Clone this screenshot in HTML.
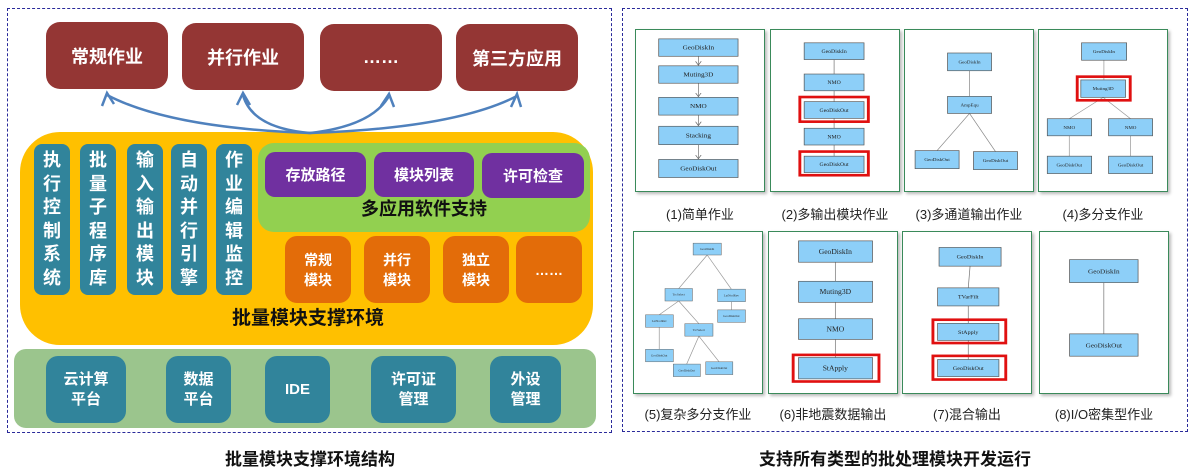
<!DOCTYPE html>
<html><head><meta charset="utf-8"><style>
body{margin:0;width:1196px;height:469px;background:#fff;position:relative;overflow:hidden;font-family:"Liberation Sans","Noto Sans CJK SC",sans-serif}
.a{position:absolute;box-sizing:border-box;display:flex;align-items:center;justify-content:center;text-align:center;color:#fff;font-weight:bold}
.top{background:#943634;border-radius:14px;font-size:18px;width:122px;height:67px}
.bar{background:#31849B;border-radius:8px;width:36px;top:144px;height:151px;font-size:18px;line-height:23.5px;padding:0 8px}
.pu{background:#7030A0;border-radius:10px;font-size:15px;height:45px;top:152px}
.or{background:#E36C09;border-radius:12px;font-size:14px;line-height:20px;width:66px;height:67px;top:236px}
.bt{background:#31849B;border-radius:12px;font-size:15px;line-height:20px;top:356px;height:67px}
.lbl{position:absolute;font-size:13px;color:#222;width:130px;text-align:center}
.pn{position:absolute;width:130px;height:163px;border:1px solid #3a8a5a;box-sizing:border-box;background:#fff;box-shadow:2px 2px 3px #bbb}
svg text{font-family:"Liberation Serif",serif}
</style></head><body>
<div style="position:absolute;left:7px;top:8px;width:605px;height:425px;border:1px dashed #2a2a9a;box-sizing:border-box"></div>
<div style="position:absolute;left:622px;top:8px;width:566px;height:424px;border:1px dashed #2a2a9a;box-sizing:border-box"></div>

<div class="a top" style="left:46px;top:22px">常规作业</div>
<div class="a top" style="left:182px;top:23px">并行作业</div>
<div class="a top" style="left:320px;top:24px">……</div>
<div class="a top" style="left:456px;top:24px">第三方应用</div>

<div style="position:absolute;left:20px;top:132px;width:573px;height:213px;background:#FFC000;border-radius:40px"></div>
<div class="a bar" style="left:34px">执行控制系统</div>
<div class="a bar" style="left:80px">批量子程序库</div>
<div class="a bar" style="left:127px">输入输出模块</div>
<div class="a bar" style="left:171px">自动并行引擎</div>
<div class="a bar" style="left:216px">作业编辑监控</div>
<div style="position:absolute;left:258px;top:143px;width:332px;height:89px;background:#92D050;border-radius:16px"></div>
<div class="a pu" style="left:265px;width:101px">存放路径</div>
<div class="a pu" style="left:374px;width:100px">模块列表</div>
<div class="a pu" style="left:482px;width:102px;top:153px">许可检查</div>
<div class="a" style="left:258px;top:196px;width:332px;height:24px;color:#111;font-size:18px">多应用软件支持</div>
<div class="a or" style="left:285px">常规<br>模块</div>
<div class="a or" style="left:364px">并行<br>模块</div>
<div class="a or" style="left:443px">独立<br>模块</div>
<div class="a or" style="left:516px">……</div>
<div class="a" style="left:150px;top:303px;width:316px;height:26px;color:#111;font-size:19px">批量模块支撑环境</div>

<div style="position:absolute;left:14px;top:349px;width:582px;height:79px;background:#9BC58D;border-radius:12px"></div>
<div class="a bt" style="left:46px;width:80px">云计算<br>平台</div>
<div class="a bt" style="left:166px;width:65px">数据<br>平台</div>
<div class="a bt" style="left:265px;width:65px">IDE</div>
<div class="a bt" style="left:371px;width:85px">许可证<br>管理</div>
<div class="a bt" style="left:490px;width:71px">外设<br>管理</div>

<svg style="position:absolute;left:0;top:0" width="610" height="160">
<g fill="none" stroke="#4F81BD" stroke-width="2.5">
<path d="M310,133 Q170,128 107,95"/><path d="M310,133 Q252,128 243,95"/><path d="M310,133 Q372,126 389,96"/><path d="M310,133 Q455,128 517,96"/>
<polyline points="102,106 107,93 114,104"/><polyline points="237,105 243,93 250,105"/><polyline points="381,106 389,94 394,107"/><polyline points="511,107 517,94 521,107"/>
</g></svg>

<div class="a" style="left:150px;top:445px;width:320px;height:24px;color:#111;font-size:17px">批量模块支撑环境结构</div>
<div class="a" style="left:700px;top:445px;width:390px;height:24px;color:#111;font-size:17px">支持所有类型的批处理模块开发运行</div>

<svg width="0" height="0" style="position:absolute"><defs>
<marker id="m" markerWidth="8" markerHeight="8" refX="6" refY="4" orient="auto"><path d="M0,0 L6,4 L0,8" fill="none" stroke="#666"/></marker></defs></svg>

<div class="pn" style="left:635px;top:29px"><svg width="128" height="161" viewBox="0 0 355 490" preserveAspectRatio="none">
<g stroke="#777" stroke-width="2" marker-end="url(#m)"><line x1="173" y1="80" x2="173" y2="107"/><line x1="173" y1="162" x2="173" y2="203"/><line x1="173" y1="259" x2="173" y2="291"/><line x1="173" y1="349" x2="173" y2="392"/></g>
<g fill="#8DCFF8" stroke="#555" stroke-width="2"><rect x="63" y="27" width="220" height="53"/><rect x="63" y="109" width="220" height="53"/><rect x="63" y="205" width="220" height="54"/><rect x="63" y="293" width="220" height="56"/><rect x="63" y="394" width="220" height="55"/></g>
<g font-size="20" text-anchor="middle" fill="#222"><text x="173" y="60">GeoDiskIn</text><text x="173" y="142">Muting3D</text><text x="173" y="238">NMO</text><text x="173" y="327">Stacking</text><text x="173" y="428">GeoDiskOut</text></g></svg></div>

<div class="pn" style="left:770px;top:29px"><svg width="128" height="161" viewBox="0 0 355 490" preserveAspectRatio="none">
<g stroke="#777" stroke-width="2"><line x1="175" y1="90" x2="175" y2="134"/><line x1="175" y1="185" x2="175" y2="218"/><line x1="175" y1="269" x2="175" y2="299"/><line x1="175" y1="350" x2="175" y2="384"/></g>
<g fill="#8DCFF8" stroke="#555" stroke-width="2"><rect x="92" y="39" width="166" height="51"/><rect x="92" y="134" width="166" height="51"/><rect x="92" y="218" width="166" height="51"/><rect x="92" y="299" width="166" height="51"/><rect x="92" y="384" width="166" height="50"/></g>
<g fill="none" stroke="#e01010" stroke-width="8"><rect x="80" y="204" width="190" height="75"/><rect x="80" y="370" width="190" height="72"/></g>
<g font-size="16" text-anchor="middle" fill="#222"><text x="175" y="70">GeoDiskIn</text><text x="175" y="165">NMO</text><text x="175" y="249">GeoDiskOut</text><text x="175" y="330">NMO</text><text x="175" y="414">GeoDiskOut</text></g></svg></div>

<div class="pn" style="left:904px;top:29px"><svg width="128" height="161" viewBox="0 0 355 490" preserveAspectRatio="none">
<g stroke="#888" stroke-width="2"><line x1="179" y1="124" x2="179" y2="202"/><line x1="179" y1="254" x2="89" y2="367"/><line x1="179" y1="254" x2="251" y2="370"/></g>
<g fill="#8DCFF8" stroke="#555" stroke-width="2"><rect x="118" y="70" width="122" height="54"/><rect x="118" y="202" width="122" height="52"/><rect x="28" y="367" width="122" height="55"/><rect x="190" y="370" width="122" height="55"/></g>
<g font-size="14" text-anchor="middle" fill="#222"><text x="179" y="102">GeoDiskIn</text><text x="179" y="233">AmpEqu</text><text x="89" y="399">GeoDiskOut</text><text x="251" y="402">GeoDiskOut</text></g></svg></div>

<div class="pn" style="left:1038px;top:29px"><svg width="128" height="161" viewBox="0 0 355 490" preserveAspectRatio="none">
<g stroke="#999" stroke-width="2"><line x1="180" y1="92" x2="180" y2="152"/><line x1="178" y1="205" x2="84" y2="270"/><line x1="178" y1="205" x2="254" y2="270"/><line x1="84" y1="322" x2="84" y2="384"/><line x1="254" y1="322" x2="254" y2="384"/></g>
<g fill="#8DCFF8" stroke="#555" stroke-width="2"><rect x="118" y="39" width="125" height="53"/><rect x="116" y="152" width="124" height="53"/><rect x="23" y="270" width="123" height="52"/><rect x="193" y="270" width="122" height="52"/><rect x="23" y="384" width="123" height="53"/><rect x="193" y="384" width="122" height="53"/></g>
<rect x="106" y="142" width="147" height="72" fill="none" stroke="#e01010" stroke-width="8"/>
<g font-size="14" text-anchor="middle" fill="#222"><text x="180" y="70">GeoDiskIn</text><text x="178" y="183">Muting3D</text><text x="84" y="301">NMO</text><text x="254" y="301">NMO</text><text x="84" y="415">GeoDiskOut</text><text x="254" y="415">GeoDiskOut</text></g></svg></div>

<div class="pn" style="left:633px;top:231px"><svg width="128" height="161" viewBox="0 0 355 490" preserveAspectRatio="none">
<g stroke="#999" stroke-width="2"><line x1="203" y1="70" x2="124" y2="172"/><line x1="203" y1="70" x2="270" y2="174"/><line x1="270" y1="212" x2="270" y2="237"/><line x1="124" y1="210" x2="70" y2="252"/><line x1="124" y1="210" x2="180" y2="279"/><line x1="70" y1="290" x2="70" y2="357"/><line x1="180" y1="317" x2="146" y2="402"/><line x1="180" y1="317" x2="236" y2="395"/></g>
<g fill="#8DCFF8" stroke="#666" stroke-width="1.5"><rect x="164" y="34" width="78" height="36"/><rect x="86" y="172" width="76" height="38"/><rect x="232" y="174" width="77" height="38"/><rect x="232" y="237" width="77" height="38"/><rect x="32" y="252" width="77" height="38"/><rect x="141" y="279" width="78" height="38"/><rect x="32" y="357" width="77" height="38"/><rect x="109" y="402" width="75" height="38"/><rect x="199" y="395" width="75" height="39"/></g>
<g font-size="9" text-anchor="middle" fill="#333"><text x="203" y="55">GeoDiskIn</text><text x="124" y="194">TrcSelect</text><text x="270" y="196">LatNodRev</text><text x="270" y="259">GeoDiskOut</text><text x="70" y="274">LatNodRev</text><text x="180" y="301">TrcSelect</text><text x="70" y="379">GeoDiskOut</text><text x="146" y="424">GeoDiskOut</text><text x="236" y="417">GeoDiskOut</text></g></svg></div>

<div class="pn" style="left:768px;top:231px"><svg width="128" height="161" viewBox="0 0 355 490" preserveAspectRatio="none">
<g stroke="#777" stroke-width="2"><line x1="184" y1="92" x2="184" y2="150"/><line x1="184" y1="214" x2="184" y2="264"/><line x1="184" y1="327" x2="184" y2="382"/></g>
<g fill="#8DCFF8" stroke="#555" stroke-width="2"><rect x="82" y="27" width="205" height="65"/><rect x="82" y="150" width="205" height="64"/><rect x="82" y="264" width="205" height="63"/><rect x="82" y="382" width="205" height="65"/></g>
<rect x="67" y="374" width="238" height="81" fill="none" stroke="#e01010" stroke-width="8"/>
<g font-size="21" text-anchor="middle" fill="#222"><text x="184" y="67">GeoDiskIn</text><text x="184" y="189">Muting3D</text><text x="184" y="303">NMO</text><text x="184" y="422">StApply</text></g></svg></div>

<div class="pn" style="left:902px;top:231px"><svg width="128" height="161" viewBox="0 0 355 490" preserveAspectRatio="none">
<g stroke="#777" stroke-width="2"><line x1="186" y1="104" x2="181" y2="170"/><line x1="181" y1="225" x2="181" y2="278"/><line x1="181" y1="330" x2="181" y2="388"/></g>
<g fill="#8DCFF8" stroke="#555" stroke-width="2"><rect x="100" y="47" width="172" height="57"/><rect x="96" y="170" width="170" height="55"/><rect x="96" y="278" width="170" height="52"/><rect x="96" y="388" width="170" height="52"/></g>
<g fill="none" stroke="#e01010" stroke-width="8"><rect x="83" y="267" width="202" height="71"/><rect x="83" y="377" width="202" height="72"/></g>
<g font-size="17" text-anchor="middle" fill="#222"><text x="186" y="81">GeoDiskIn</text><text x="181" y="203">TVarFilt</text><text x="181" y="310">StApply</text><text x="181" y="420">GeoDiskOut</text></g></svg></div>

<div class="pn" style="left:1039px;top:231px"><svg width="128" height="161" viewBox="0 0 355 490" preserveAspectRatio="none">
<line x1="177" y1="154" x2="177" y2="310" stroke="#777" stroke-width="2"/>
<g fill="#8DCFF8" stroke="#555" stroke-width="2"><rect x="82" y="84" width="190" height="70"/><rect x="82" y="310" width="190" height="68"/></g>
<g font-size="20" text-anchor="middle" fill="#222"><text x="177" y="126">GeoDiskIn</text><text x="177" y="351">GeoDiskOut</text></g></svg></div>

<div class="lbl" style="left:635px;top:204px">(1)简单作业</div>
<div class="lbl" style="left:770px;top:204px">(2)多输出模块作业</div>
<div class="lbl" style="left:904px;top:204px">(3)多通道输出作业</div>
<div class="lbl" style="left:1038px;top:204px">(4)多分支作业</div>
<div class="lbl" style="left:633px;top:404px">(5)复杂多分支作业</div>
<div class="lbl" style="left:768px;top:404px">(6)非地震数据输出</div>
<div class="lbl" style="left:902px;top:404px">(7)混合输出</div>
<div class="lbl" style="left:1039px;top:404px">(8)I/O密集型作业</div>
</body></html>
